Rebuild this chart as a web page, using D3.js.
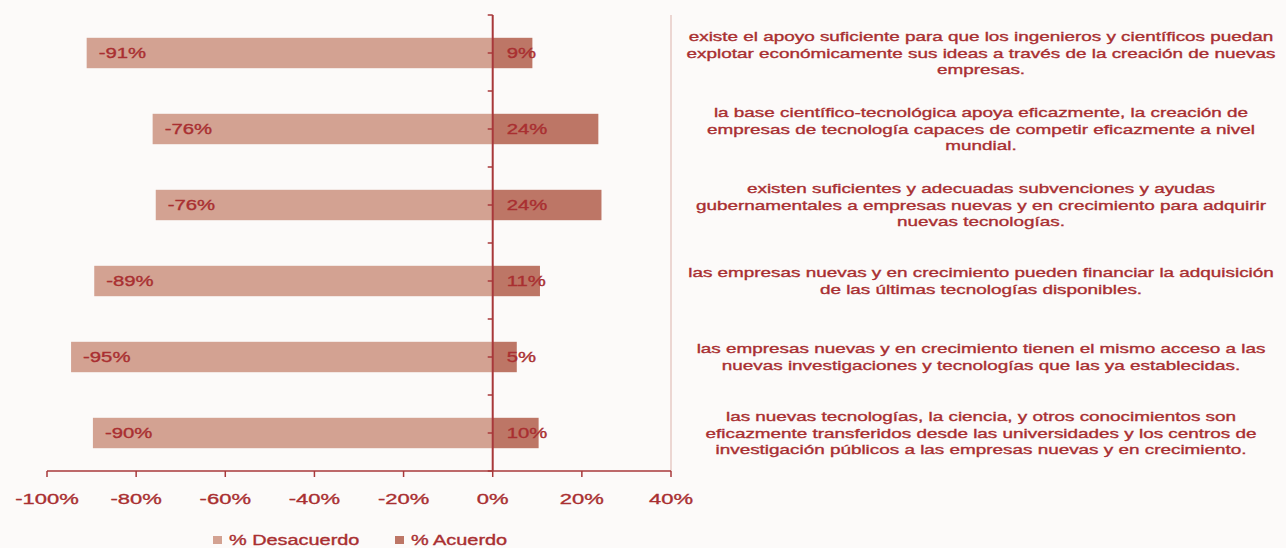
<!DOCTYPE html>
<html>
<head>
<meta charset="utf-8">
<script src="https://cdn.jsdelivr.net/npm/d3@7"></script>
<style>
  html, body { margin: 0; padding: 0; background: #fcfaf9; }
  svg { display: block; }
  text { font-family: "Liberation Sans", Arial, sans-serif; }
</style>
</head>
<body>
<svg id="chart" width="1286" height="548"></svg>
<script>
// statements, top to bottom as drawn
const statements = [
  ["existe el apoyo suficiente para que los ingenieros y científicos puedan",
   "explotar económicamente sus ideas a través de la creación de nuevas",
   "empresas."],
  ["la base científico-tecnológica apoya eficazmente, la creación de",
   "empresas de tecnología capaces de competir eficazmente a nivel",
   "mundial."],
  ["existen suficientes y adecuadas subvenciones y ayudas",
   "gubernamentales a empresas nuevas y en crecimiento para adquirir",
   "nuevas tecnologías."],
  ["las empresas nuevas y en crecimiento pueden financiar la adquisición",
   "de las últimas tecnologías disponibles."],
  ["las empresas nuevas y en crecimiento tienen el mismo acceso a las",
   "nuevas investigaciones y tecnologías que las ya establecidas."],
  ["las nuevas tecnologías, la ciencia, y otros conocimientos son",
   "eficazmente transferidos desde las universidades y los centros de",
   "investigación públicos a las empresas nuevas y en crecimiento."]
];
const desacuerdo = [-91.1, -76.3, -75.6, -89.4, -94.6, -89.7];
const acuerdo = [8.9, 23.7, 24.4, 10.6, 5.4, 10.3];
const xTicks = [-100, -80, -60, -40, -20, 0, 20, 40];
const seriesNames = ["% Desacuerdo", "% Acuerdo"];

const colors = { des: "#d3a292", acu: "#bd7666", axis: "#a8383a", text: "#a92f31", border: "#ecd6d2" };
const SX = 1.42; // the source picture is stretched sideways

const svg = d3.select("#chart");
const margin = { top: 15, left: 47, right: 671, bottom: 471 };

const x = d3.scaleLinear().domain([-100, 40]).range([margin.left, margin.right]);
const y = d3.scaleBand().domain(d3.range(statements.length))
    .range([margin.top, margin.bottom]).paddingInner(0.6).paddingOuter(0.3);

// helper: stretched text, slightly heavier like the source
function stext(g, tx, ty, str, size, anchor) {
  return g.append("text")
      .attr("transform", `translate(${tx},${ty}) scale(${SX},1)`)
      .attr("text-anchor", anchor || "start")
      .style("font-size", size + "px")
      .style("fill", colors.text)
      .style("stroke", colors.text)
      .style("stroke-width", 0.35)
      .text(str);
}

// plot area right border
svg.append("line")
    .attr("x1", margin.right).attr("x2", margin.right)
    .attr("y1", margin.top).attr("y2", margin.bottom)
    .style("stroke", colors.border).style("stroke-width", 2);

// bars
const rows = svg.append("g").selectAll("g")
    .data(d3.range(statements.length))
  .enter().append("g");

rows.append("rect")
    .attr("x", i => x(desacuerdo[i]))
    .attr("y", i => y(i))
    .attr("width", i => x(0) - x(desacuerdo[i]))
    .attr("height", y.bandwidth())
    .style("fill", colors.des);

rows.append("rect")
    .attr("x", x(0))
    .attr("y", i => y(i))
    .attr("width", i => x(acuerdo[i]) - x(0))
    .attr("height", y.bandwidth())
    .style("fill", colors.acu);

// value labels
const labels = svg.append("g");
d3.range(statements.length).forEach(i => {
  const cy = y(i) + y.bandwidth() / 2 + 5;
  stext(labels, x(desacuerdo[i]) + 12, cy, Math.round(desacuerdo[i]) + "%", 14.3);
  stext(labels, x(0) + 14, cy, Math.round(acuerdo[i]) + "%", 14.3);
});

// x axis
const xAxis = svg.append("g").attr("transform", `translate(0,${margin.bottom})`);
xAxis.append("line")
    .attr("x1", margin.left).attr("x2", margin.right)
    .style("stroke", colors.axis).style("stroke-width", 1.5);
xTicks.forEach(t => {
  xAxis.append("line")
      .attr("x1", x(t)).attr("x2", x(t)).attr("y1", 0).attr("y2", 6)
      .style("stroke", colors.axis).style("stroke-width", 1.5);
  stext(xAxis, x(t), 33, t + "%", 15.5, "middle");
});

// y axis at zero, ticks at every half band
const yAxis = svg.append("g");
yAxis.append("line")
    .attr("x1", x(0)).attr("x2", x(0))
    .attr("y1", margin.top).attr("y2", margin.bottom)
    .style("stroke", colors.axis).style("stroke-width", 2);
const step = y.step();
d3.range(statements.length * 2 + 1).forEach(k => {
  const ty = margin.top + k * step / 2;
  yAxis.append("line")
      .attr("x1", x(0) - 5).attr("x2", x(0))
      .attr("y1", ty).attr("y2", ty)
      .style("stroke", colors.axis).style("stroke-width", 1.5);
});

// statements on the right
const notes = svg.append("g");
statements.forEach((lines, i) => {
  const cy = y(i) + y.bandwidth() / 2;
  const lh = 16.5;
  const y0 = cy - (lines.length - 1) * lh / 2 + 4.5;
  lines.forEach((ln, j) => {
    stext(notes, 981, y0 + j * lh, ln, 13.3, "middle");
  });
});

// legend
const legend = svg.append("g");
const legendX = [213, 395];
const legendCol = [colors.des, colors.acu];
seriesNames.forEach((name, i) => {
  legend.append("rect")
      .attr("x", legendX[i]).attr("y", 536)
      .attr("width", 9).attr("height", 8)
      .style("fill", legendCol[i]);
  stext(legend, legendX[i] + 16, 545, name, 14);
});
</script>
</body>
</html>
